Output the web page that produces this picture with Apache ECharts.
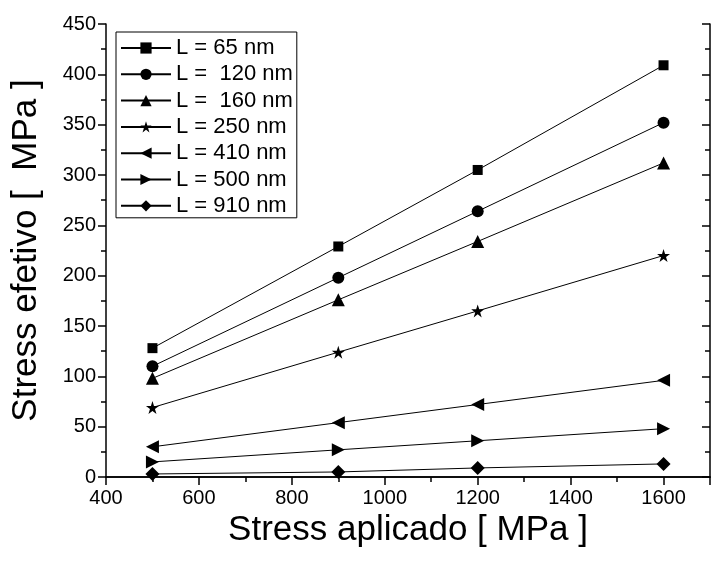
<!DOCTYPE html>
<html>
<head>
<meta charset="utf-8">
<script src="https://cdn.jsdelivr.net/npm/echarts@6/dist/echarts.min.js"></script>
<style>html,body{margin:0;padding:0;background:#fff;}#c{width:713px;height:565px;}</style>
</head>
<body>
<div id="c"></div>
<script>
const xValues = [500, 900, 1200, 1600];
const seriesNames = ['L = 65 nm', 'L =  120 nm', 'L =  160 nm', 'L = 250 nm', 'L = 410 nm', 'L = 500 nm', 'L = 910 nm'];
const s65 = [128, 229, 305, 409];
const s120 = [110, 198, 264, 352];
const s160 = [98, 176, 234, 312];
const s250 = [69, 124, 165, 220];
const s410 = [30, 54, 72, 96];
const s500 = [15, 27, 36, 48];
const s910 = [3, 5, 9, 13];
const xTickLabels = [400, 600, 800, 1000, 1200, 1400, 1600];
const yTickLabels = [0, 50, 100, 150, 200, 250, 300, 350, 400, 450];

const starPath = 'path://M0,-10 L2.245,-3.09 L9.51,-3.09 L3.633,1.18 L5.878,8.09 L0,3.82 L-5.878,8.09 L-3.633,1.18 L-9.51,-3.09 L-2.245,-3.09 Z';
const allData = [s65, s120, s160, s250, s410, s500, s910];
const symbols = [
  {symbol: 'rect', size: 10, rotate: 0},
  {symbol: 'circle', size: 12, rotate: 0},
  {symbol: 'triangle', size: 13, rotate: 0},
  {symbol: starPath, size: 13, rotate: 0},
  {symbol: 'triangle', size: 13, rotate: 90},
  {symbol: 'triangle', size: 13, rotate: -90},
  {symbol: 'diamond', size: 14, rotate: 0}
];

const font = 'Liberation Sans';
const chart = echarts.init(document.getElementById('c'), null, {renderer: 'canvas'});
const series = allData.map((d, i) => ({
  name: seriesNames[i],
  type: 'line',
  data: xValues.map((x, j) => [x, d[j]]),
  symbol: symbols[i].symbol,
  symbolSize: symbols[i].size,
  symbolRotate: symbols[i].rotate,
  showAllSymbol: true,
  lineStyle: {color: '#000', width: 1},
  itemStyle: {color: '#000', borderWidth: 0},
  emphasis: {disabled: true},
  animation: false,
  xAxisIndex: 0,
  yAxisIndex: 0
}));

const axisLineStyle = {show: true, lineStyle: {color: '#000', width: 1.5}};
chart.setOption({
  animation: false,
  backgroundColor: '#fff',
  grid: {left: 106, top: 24, width: 610, height: 453, containLabel: false},
  legend: {
    orient: 'vertical',
    left: 116,
    top: 32,
    itemWidth: 50,
    itemHeight: 14,
    itemGap: 4.3,
    padding: [5, 4, 1, 4],
    borderColor: '#000',
    borderWidth: 1,
    textStyle: {fontFamily: font, fontSize: 22, color: '#000', lineHeight: 22},
    data: seriesNames
  },
  xAxis: [
    {
      type: 'value', min: 400, max: 1700, interval: 200, position: 'bottom',
      axisLine: axisLineStyle,
      axisTick: {show: true, inside: false, length: 8, lineStyle: {color: '#000', width: 1.5}},
      minorTick: {show: true, splitNumber: 2, length: 5, lineStyle: {color: '#000', width: 1.5}},
      splitLine: {show: false},
      axisLabel: {fontFamily: font, fontSize: 20, color: '#000', margin: 11,
        formatter: v => xTickLabels.indexOf(v) >= 0 ? String(v) : ''},
      name: 'Stress aplicado [ MPa ]', nameLocation: 'middle', nameGap: 32,
      nameTextStyle: {fontFamily: font, fontSize: 35, color: '#000', verticalAlign: 'top'}
    },
    {
      type: 'value', min: 400, max: 1700, interval: 200, position: 'top',
      axisLine: axisLineStyle,
      axisTick: {show: true, inside: true, length: 8, lineStyle: {color: '#000', width: 1.5}},
      minorTick: {show: true, splitNumber: 2, length: 5, lineStyle: {color: '#000', width: 1.5}},
      splitLine: {show: false},
      axisLabel: {show: false}
    }
  ],
  yAxis: [
    {
      type: 'value', min: 0, max: 450, interval: 50, position: 'left',
      axisLine: axisLineStyle,
      axisTick: {show: true, inside: false, length: 8, lineStyle: {color: '#000', width: 1.5}},
      minorTick: {show: true, splitNumber: 2, length: 5, lineStyle: {color: '#000', width: 1.5}},
      splitLine: {show: false},
      axisLabel: {fontFamily: font, fontSize: 20, color: '#000', margin: 10,
        formatter: v => yTickLabels.indexOf(v) >= 0 ? String(v) : ''},
      name: 'Stress efetivo [  MPa ]', nameLocation: 'middle', nameGap: 62,
      nameTextStyle: {fontFamily: font, fontSize: 35, color: '#000'}
    },
    {
      type: 'value', min: 0, max: 450, interval: 50, position: 'right',
      axisLine: axisLineStyle,
      axisTick: {show: true, inside: true, length: 8, lineStyle: {color: '#000', width: 1.5}},
      minorTick: {show: true, splitNumber: 2, length: 5, lineStyle: {color: '#000', width: 1.5}},
      splitLine: {show: false},
      axisLabel: {show: false}
    }
  ],
  series: series
});
</script>
</body>
</html>
